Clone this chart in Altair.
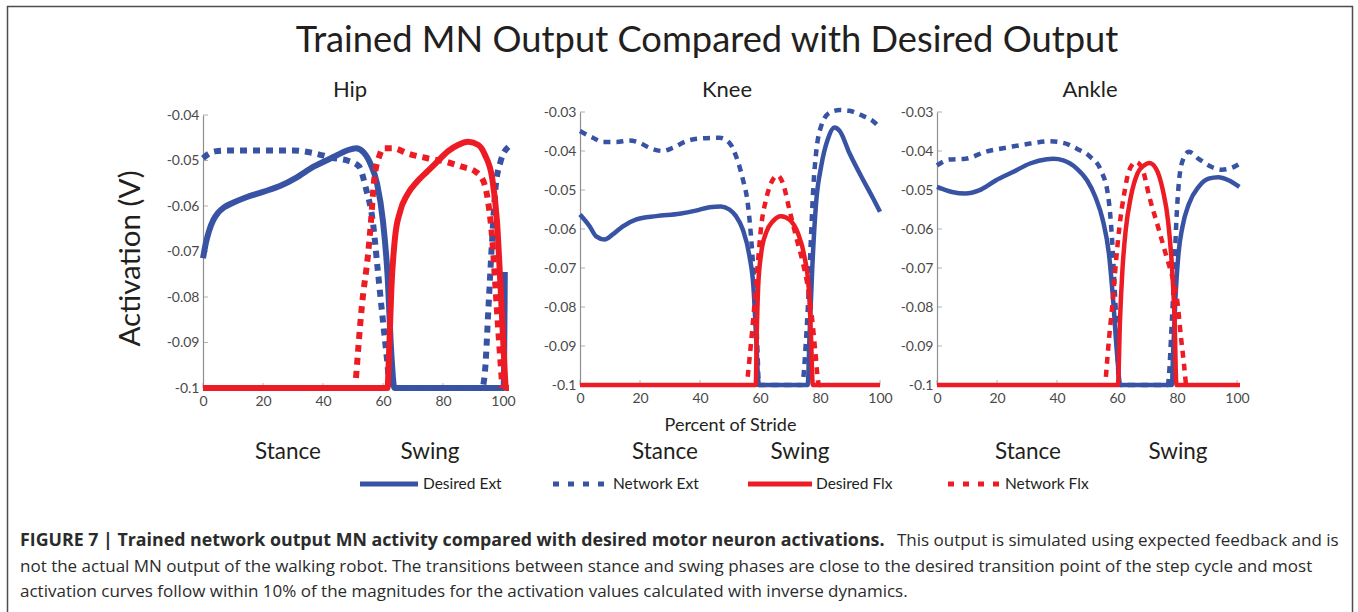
import altair as alt
import pandas as pd

# ---------------- text content ----------------
TITLE = "Trained MN Output Compared with Desired Output"
PANEL_NAMES = ["Hip", "Knee", "Ankle"]
SERIES_NAMES = ["Desired Ext", "Network Ext", "Desired Flx", "Network Flx"]
PHASES = ["Stance", "Swing"]
Y_TITLE = "Activation (V)"
X_TITLE = "Percent of Stride"
X_TICKS = [0, 20, 40, 60, 80, 100]
HIP_Y_TICKS = [-0.1, -0.09, -0.08, -0.07, -0.06, -0.05, -0.04]
KA_Y_TICKS = [-0.1, -0.09, -0.08, -0.07, -0.06, -0.05, -0.04, -0.03]
CAPTION_BOLD = "FIGURE 7 | Trained network output MN activity compared with desired motor neuron activations."
CAPTION_1 = "This output is simulated using expected feedback and is"
CAPTION_2 = ("not the actual MN output of the walking robot. The transitions between stance and swing "
             "phases are close to the desired transition point of the step cycle and most")
CAPTION_3 = ("activation curves follow within 10% of the magnitudes for the activation values "
             "calculated with inverse dynamics.")

# ---------------- data: (percent of stride, activation V) ----------------
hip_desired_ext = [(0, -0.0715), (1, -0.068), (2, -0.0655), (3.5, -0.063), (5, -0.0615), (7, -0.0603),
                   (10, -0.0593), (14, -0.0582), (20, -0.0569), (26, -0.0555), (31, -0.0538), (37, -0.0513),
                   (43, -0.0494), (48, -0.0478), (51, -0.0473), (53.5, -0.0482), (56, -0.051), (58, -0.055),
                   (60, -0.0634), (61.5, -0.075), (62.8, -0.0927), (63.8, -0.1), (100.2, -0.1), (100.6, -0.0745)]
hip_network_ext = [(0, -0.0495), (2, -0.0485), (4, -0.048), (8, -0.0478), (30, -0.0478), (37, -0.0484),
                   (43, -0.0494), (48.6, -0.0501), (52, -0.0513), (54.3, -0.0561), (56.6, -0.0634),
                   (58.3, -0.0744), (60, -0.0854), (61.4, -0.0941), (62.3, -0.1), (93, -0.1), (94, -0.0963),
                   (95.2, -0.0817), (96.4, -0.0671), (97.5, -0.0561), (99.2, -0.0502), (101.8, -0.047)]
hip_desired_flx = [(0, -0.1), (61.5, -0.1), (62, -0.0927), (62.8, -0.078), (64, -0.067), (65.7, -0.0612),
                   (68, -0.0576), (71.4, -0.0546), (74.8, -0.0524), (78.2, -0.0502), (81.6, -0.048),
                   (85, -0.0466), (88.4, -0.0459), (91.8, -0.0466), (94, -0.0488), (96.4, -0.0539),
                   (98, -0.0634), (99.2, -0.078), (100.3, -0.0927), (101, -0.1), (102, -0.1)]
hip_network_flx = [(51, -0.0978), (53, -0.0817), (55, -0.0707), (56, -0.0634), (57, -0.0546), (58.9, -0.0488),
                   (60, -0.0473), (63.4, -0.0473), (68, -0.0484), (74.8, -0.0495), (80.5, -0.0502),
                   (86, -0.0513), (90.7, -0.0524), (93.5, -0.0546), (95.2, -0.0598), (96.4, -0.0671),
                   (97.5, -0.078), (98.6, -0.089), (99.8, -0.1)]

knee_desired_ext = [(0, -0.0563), (3.2, -0.0593), (5.4, -0.0619), (8.2, -0.0627), (10.9, -0.0614),
                    (14.3, -0.0593), (18.6, -0.0576), (25.4, -0.0567), (33.2, -0.0561), (38.6, -0.0553),
                    (43.2, -0.0544), (47, -0.0542), (49.8, -0.055), (52, -0.0567), (54.3, -0.0602),
                    (56.5, -0.067), (57.8, -0.0747), (58.7, -0.0876), (59.6, -0.1), (75.9, -0.1),
                    (76.5, -0.0876), (77.4, -0.0704), (78.7, -0.0533), (80.4, -0.0439), (82.6, -0.037),
                    (84.8, -0.034), (86.6, -0.0349), (89.8, -0.0405), (94.3, -0.0473), (97.6, -0.052),
                    (100, -0.0556)]
knee_network_ext = [(0, -0.0349), (4.3, -0.0366), (7.6, -0.0377), (12, -0.0377), (16.5, -0.0373),
                    (19.8, -0.0379), (23.2, -0.0392), (27.6, -0.04), (30.9, -0.0392), (35.4, -0.0375),
                    (39.8, -0.0368), (46.5, -0.0366), (49.8, -0.0379), (52, -0.0413), (54.3, -0.0473),
                    (55.9, -0.0533), (57, -0.0619), (57.8, -0.0704), (58.5, -0.079), (59.2, -0.0919),
                    (59.6, -0.1), (74, -0.1), (75.4, -0.0876), (76.3, -0.0747), (77, -0.0619), (77.8, -0.049),
                    (78.7, -0.0405), (80.4, -0.0336), (83.2, -0.0302), (86.6, -0.0295), (89.8, -0.0297),
                    (94.3, -0.031), (97.6, -0.0323), (100, -0.034)]
knee_desired_flx = [(0, -0.1), (58.6, -0.1), (58.9, -0.0876), (59.4, -0.0747), (60.4, -0.0662), (62, -0.061),
                    (64.3, -0.058), (67, -0.0567), (69.8, -0.0576), (72.6, -0.061), (74.8, -0.067),
                    (76.3, -0.0756), (77, -0.0876), (77.6, -0.1), (100, -0.1)]
knee_network_flx = [(55.9, -0.0979), (57, -0.0893), (58.2, -0.079), (59.3, -0.0687), (60.4, -0.0593),
                    (62, -0.0525), (63.7, -0.0482), (65.9, -0.0463), (67.6, -0.0482), (69.8, -0.055),
                    (72, -0.0619), (74.3, -0.0687), (75.9, -0.0747), (77.4, -0.0833), (78.5, -0.0919),
                    (79.6, -0.1), (80.5, -0.1)]

ankle_desired_ext = [(0, -0.0492), (5, -0.0505), (9.5, -0.0509), (14, -0.0501), (19.7, -0.0475),
                     (25.3, -0.0454), (31, -0.0432), (36.6, -0.0421), (38.8, -0.042), (42.1, -0.0424),
                     (46.6, -0.0445), (50, -0.0475), (52.8, -0.0518), (55.3, -0.0578), (57.3, -0.0663),
                     (58.8, -0.0791), (60, -0.0919), (61.1, -0.1), (78.3, -0.1), (78.7, -0.0919),
                     (79.4, -0.0791), (80.5, -0.0663), (81.8, -0.0595), (84, -0.0535), (87.2, -0.0492),
                     (90.5, -0.0471), (93.8, -0.0467), (97.2, -0.0475), (100.8, -0.0492)]
ankle_network_ext = [(0, -0.0437), (4, -0.0422), (9.5, -0.042), (16.2, -0.0402), (24.2, -0.039), (31, -0.0381),
                     (37.7, -0.0375), (42.1, -0.0379), (46.6, -0.0394), (51.1, -0.0415), (54.6, -0.0449),
                     (57.1, -0.0518), (58.3, -0.062), (59.2, -0.0748), (60, -0.0876), (60.7, -0.1),
                     (76.9, -0.1), (78.3, -0.0834), (79.1, -0.0706), (79.8, -0.0578), (80.7, -0.0475),
                     (82.1, -0.042), (84, -0.0402), (87.2, -0.042), (91.6, -0.0441), (95, -0.0448),
                     (98.3, -0.0443), (101, -0.0432)]
ankle_desired_flx = [(0, -0.1), (60.3, -0.1), (61, -0.0834), (61.8, -0.0706), (62.9, -0.0603),
                     (64.6, -0.0518), (66.8, -0.0458), (69, -0.0437), (70.8, -0.0431), (73, -0.0445),
                     (75.3, -0.0501), (77, -0.0578), (78.4, -0.0706), (79.2, -0.0834), (79.8, -0.1), (101, -0.1)]
ankle_network_flx = [(56.3, -0.0979), (57.4, -0.0876), (58.5, -0.0791), (59.6, -0.0689), (60.8, -0.0595),
                     (62.4, -0.0509), (64.1, -0.0449), (66.4, -0.0428), (68.6, -0.0449), (70.8, -0.0518),
                     (73.7, -0.0595), (76.5, -0.0671), (78.7, -0.0731), (80.2, -0.0791), (81.3, -0.0876),
                     (82.3, -0.0945), (83, -0.1)]

# ---------------- styling / layout ----------------
W, H = 1358, 612
BLUE = "#3953a4"
RED = "#ed1c24"
TXT = "#231f20"
LBL = "#4a4a4a"
CAP_COLOR = "#2b2b2b"
FONT = "Lato"
CAP_FONT = "Open Sans"
MINUS = "\u2212"

SERIES_STYLE = [(BLUE, False), (BLUE, True), (RED, False), (RED, True)]

PANELS = [
    dict(name="Hip", series=[hip_desired_ext, hip_network_ext, hip_desired_flx, hip_network_flx],
         xr=[203, 503], yr=[388, 115], ydom=[-0.1, -0.04], yticks=HIP_Y_TICKS, sw=6,
         ytitle=Y_TITLE, xtitle=None, phase_x=[288, 430], name_x=350),
    dict(name="Knee", series=[knee_desired_ext, knee_network_ext, knee_desired_flx, knee_network_flx],
         xr=[580, 880], yr=[385, 112], ydom=[-0.1, -0.03], yticks=KA_Y_TICKS, sw=4.5,
         ytitle=None, xtitle=X_TITLE, phase_x=[665, 800], name_x=727),
    dict(name="Ankle", series=[ankle_desired_ext, ankle_network_ext, ankle_desired_flx, ankle_network_flx],
         xr=[937, 1237], yr=[385, 112], ydom=[-0.1, -0.03], yticks=KA_Y_TICKS, sw=4.5,
         ytitle=None, xtitle=None, phase_x=[1028, 1178], name_x=1090),
]

LABEL_EXPR = "replace(format(datum.value, '.2~f'), '" + MINUS + "', '-')"


def to_df(pairs):
    return pd.DataFrame({"x": [p[0] for p in pairs], "y": [p[1] for p in pairs],
                         "i": list(range(len(pairs)))})


def text_layer(txt, x, y, size, weight="normal", align="center", color=TXT, font=FONT):
    return alt.Chart(pd.DataFrame({"t": [txt]})).mark_text(
        align=align, baseline="alphabetic", font=font, fontSize=size,
        fontWeight=weight, color=color
    ).encode(text="t:N", x=alt.value(x), y=alt.value(y))


def panel_layer(p):
    xs = alt.Scale(domain=[0, 100], range=p["xr"], nice=False, zero=False)
    ys = alt.Scale(domain=p["ydom"], range=p["yr"], nice=False, zero=False)
    xaxis_kw = dict(orient="bottom", offset=-(H - p["yr"][0]), values=X_TICKS, format="d",
                    domain=False, ticks=False, tickSize=0, grid=False, labelFont=FONT,
                    labelFontSize=14, labelColor=LBL, labelPadding=6, labelOverlap=False,
                    labelFlush=False, titleFont=FONT, titleFontSize=18, titleFontWeight="normal",
                    titleColor=TXT, titlePadding=11)
    yaxis_kw = dict(orient="left", offset=-p["xr"][0], values=p["yticks"], labelExpr=LABEL_EXPR,
                    domain=True, domainColor="#8f8f8f", domainWidth=1.2, ticks=False, tickSize=0,
                    grid=False, labelFont=FONT, labelFontSize=14, labelColor=LBL, labelPadding=4,
                    labelOverlap=False, labelFlush=False, titleFont=FONT, titleFontSize=29.5,
                    titleFontWeight="normal", titleColor=TXT, titlePadding=21, titleY=258)
    xaxis = alt.Axis(title=p["xtitle"], **xaxis_kw)
    yaxis = alt.Axis(title=p["ytitle"], **yaxis_kw)

    ytick = alt.Chart(pd.DataFrame({"v": p["yticks"]})).mark_tick(
        orient="horizontal", size=5, thickness=1, color="#8f8f8f", xOffset=2.5
    ).encode(y=alt.Y("v:Q", scale=ys, axis=yaxis), x=alt.value(p["xr"][0]))
    xtick = alt.Chart(pd.DataFrame({"v": X_TICKS})).mark_tick(
        orient="vertical", size=5, thickness=1, color="#8f8f8f", yOffset=-2.5
    ).encode(x=alt.X("v:Q", scale=xs, axis=xaxis), y=alt.value(p["yr"][0]))

    layers = [xtick, ytick]
    for pairs, (color, dotted) in zip(p["series"], SERIES_STYLE):
        kw = dict(color=color, strokeWidth=p["sw"], strokeCap="butt", strokeJoin="round",
                  interpolate="monotone")
        if dotted:
            kw["strokeDash"] = [7, 6]
        layers.append(alt.Chart(to_df(pairs)).mark_line(**kw).encode(
            x=alt.X("x:Q", scale=xs, axis=xaxis),
            y=alt.Y("y:Q", scale=ys, axis=yaxis),
            order="i:Q"))
    return alt.layer(*layers)


layers = []
# outer frame
layers.append(alt.Chart(pd.DataFrame({"a": [0]})).mark_rect(
    fillOpacity=0, stroke="#4d4d4d", strokeWidth=1.5
).encode(x=alt.value(7.5), x2=alt.value(1352.5), y=alt.value(6.5), y2=alt.value(700)))

layers.append(text_layer(TITLE, 707, 52, 36.3))

for p in PANELS:
    layers.append(panel_layer(p))
    layers.append(text_layer(p["name"], p["name_x"], 97, 22))
    for ph, px in zip(PHASES, p["phase_x"]):
        layers.append(text_layer(ph, px, 459, 22.5))

# legend
LEG = [(360, 418, 423), (553, 605, 613), (748, 812, 816), (948, 1000, 1005)]
for name, (color, dotted), (x1, x2, tx) in zip(SERIES_NAMES, SERIES_STYLE, LEG):
    kw = dict(color=color, strokeWidth=5, strokeCap="butt")
    if dotted:
        kw["strokeDash"] = [6, 9]
    layers.append(alt.Chart(pd.DataFrame({"a": [0]})).mark_rule(**kw).encode(
        x=alt.value(x1), x2=alt.value(x2), y=alt.value(484)))
    layers.append(text_layer(name, tx, 489, 15.5, align="left"))

# caption
layers.append(text_layer(CAPTION_BOLD, 20, 546, 17.8, weight="bold", align="left", font=CAP_FONT,
                         color=CAP_COLOR))
layers.append(text_layer(CAPTION_1, 897, 546, 17, align="left", font=CAP_FONT, color=CAP_COLOR))
layers.append(text_layer(CAPTION_2, 20, 572, 17, align="left", font=CAP_FONT, color=CAP_COLOR))
layers.append(text_layer(CAPTION_3, 20, 597, 17, align="left", font=CAP_FONT, color=CAP_COLOR))

chart = alt.layer(*layers).resolve_scale(x="independent", y="independent").properties(
    width=W, height=H, autosize=alt.AutoSizeParams(type="none"), padding=0,
    background="white"
).configure_view(stroke=None)

chart.save("out.html", embed_options={"renderer": "svg", "actions": False})
